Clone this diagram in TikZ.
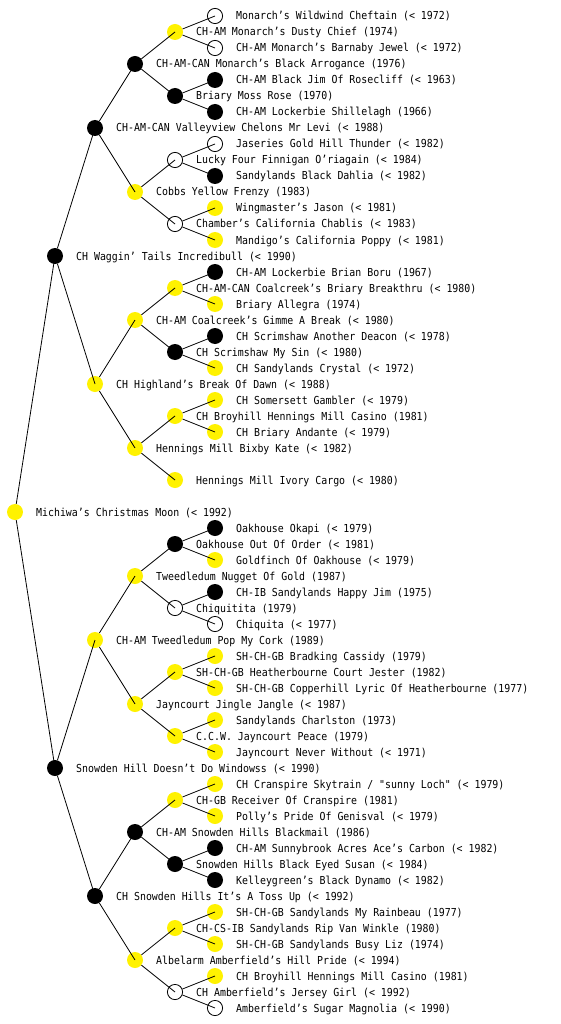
\documentclass[tikz,border=0pt]{standalone}
\usepackage{fontspec}
\setmonofont[FakeStretch=0.9]{DejaVu Sans Mono}
\newcommand\dognode[5]{%
  \node[#2] (n#1) at (#3,#4) {};
  \node[lbl] (t#1) at ([xshift=21pt,yshift=-4pt]n#1.center) {#5};}
\begin{document}
\begin{tikzpicture}[x=1pt,y=-1pt,
  yel/.style={circle,fill=yellow,inner sep=0pt,minimum size=16pt},
  blk/.style={circle,fill=black,inner sep=0pt,minimum size=16pt},
  opn/.style={circle,draw=black,line width=0.8pt,inner sep=0pt,minimum size=15.2pt},
  lbl/.style={anchor=base west,inner sep=0pt,font=\ttfamily\fontsize{11}{13}\selectfont},
  edge/.style={line width=0.8pt,black}]
\useasboundingbox[fill=white] (0,0) rectangle (560,1024);
% depth x: 15 55 95 135 175 215
\dognode{1}{opn}{215}{16}{Monarch’s Wildwind Cheftain (< 1972)}
\dognode{2}{yel}{175}{32}{CH-AM Monarch’s Dusty Chief (1974)}
\dognode{3}{opn}{215}{48}{CH-AM Monarch’s Barnaby Jewel (< 1972)}
\dognode{4}{blk}{135}{64}{CH-AM-CAN Monarch’s Black Arrogance (1976)}
\dognode{5}{blk}{215}{80}{CH-AM Black Jim Of Rosecliff (< 1963)}
\dognode{6}{blk}{175}{96}{Briary Moss Rose (1970)}
\dognode{7}{blk}{215}{112}{CH-AM Lockerbie Shillelagh (1966)}
\dognode{8}{blk}{95}{128}{CH-AM-CAN Valleyview Chelons Mr Levi (< 1988)}
\dognode{9}{opn}{215}{144}{Jaseries Gold Hill Thunder (< 1982)}
\dognode{10}{opn}{175}{160}{Lucky Four Finnigan O’riagain (< 1984)}
\dognode{11}{blk}{215}{176}{Sandylands Black Dahlia (< 1982)}
\dognode{12}{yel}{135}{192}{Cobbs Yellow Frenzy (1983)}
\dognode{13}{yel}{215}{208}{Wingmaster’s Jason (< 1981)}
\dognode{14}{opn}{175}{224}{Chamber’s California Chablis (< 1983)}
\dognode{15}{yel}{215}{240}{Mandigo’s California Poppy (< 1981)}
\dognode{16}{blk}{55}{256}{CH Waggin’ Tails Incredibull (< 1990)}
\dognode{17}{blk}{215}{272}{CH-AM Lockerbie Brian Boru (1967)}
\dognode{18}{yel}{175}{288}{CH-AM-CAN Coalcreek’s Briary Breakthru (< 1980)}
\dognode{19}{yel}{215}{304}{Briary Allegra (1974)}
\dognode{20}{yel}{135}{320}{CH-AM Coalcreek’s Gimme A Break (< 1980)}
\dognode{21}{blk}{215}{336}{CH Scrimshaw Another Deacon (< 1978)}
\dognode{22}{blk}{175}{352}{CH Scrimshaw My Sin (< 1980)}
\dognode{23}{yel}{215}{368}{CH Sandylands Crystal (< 1972)}
\dognode{24}{yel}{95}{384}{CH Highland’s Break Of Dawn (< 1988)}
\dognode{25}{yel}{215}{400}{CH Somersett Gambler (< 1979)}
\dognode{26}{yel}{175}{416}{CH Broyhill Hennings Mill Casino (1981)}
\dognode{27}{yel}{215}{432}{CH Briary Andante (< 1979)}
\dognode{28}{yel}{135}{448}{Hennings Mill Bixby Kate (< 1982)}
\dognode{30}{yel}{175}{480}{Hennings Mill Ivory Cargo (< 1980)}
\dognode{32}{yel}{15}{512}{Michiwa’s Christmas Moon (< 1992)}
\dognode{33}{blk}{215}{528}{Oakhouse Okapi (< 1979)}
\dognode{34}{blk}{175}{544}{Oakhouse Out Of Order (< 1981)}
\dognode{35}{yel}{215}{560}{Goldfinch Of Oakhouse (< 1979)}
\dognode{36}{yel}{135}{576}{Tweedledum Nugget Of Gold (1987)}
\dognode{37}{blk}{215}{592}{CH-IB Sandylands Happy Jim (1975)}
\dognode{38}{opn}{175}{608}{Chiquitita (1979)}
\dognode{39}{opn}{215}{624}{Chiquita (< 1977)}
\dognode{40}{yel}{95}{640}{CH-AM Tweedledum Pop My Cork (1989)}
\dognode{41}{yel}{215}{656}{SH-CH-GB Bradking Cassidy (1979)}
\dognode{42}{yel}{175}{672}{SH-CH-GB Heatherbourne Court Jester (1982)}
\dognode{43}{yel}{215}{688}{SH-CH-GB Copperhill Lyric Of Heatherbourne (1977)}
\dognode{44}{yel}{135}{704}{Jayncourt Jingle Jangle (< 1987)}
\dognode{45}{yel}{215}{720}{Sandylands Charlston (1973)}
\dognode{46}{yel}{175}{736}{C.C.W. Jayncourt Peace (1979)}
\dognode{47}{yel}{215}{752}{Jayncourt Never Without (< 1971)}
\dognode{48}{blk}{55}{768}{Snowden Hill Doesn’t Do Windowss (< 1990)}
\dognode{49}{yel}{215}{784}{CH Cranspire Skytrain / "sunny Loch" (< 1979)}
\dognode{50}{yel}{175}{800}{CH-GB Receiver Of Cranspire (1981)}
\dognode{51}{yel}{215}{816}{Polly’s Pride Of Genisval (< 1979)}
\dognode{52}{blk}{135}{832}{CH-AM Snowden Hills Blackmail (1986)}
\dognode{53}{blk}{215}{848}{CH-AM Sunnybrook Acres Ace’s Carbon (< 1982)}
\dognode{54}{blk}{175}{864}{Snowden Hills Black Eyed Susan (< 1984)}
\dognode{55}{blk}{215}{880}{Kelleygreen’s Black Dynamo (< 1982)}
\dognode{56}{blk}{95}{896}{CH Snowden Hills It’s A Toss Up (< 1992)}
\dognode{57}{yel}{215}{912}{SH-CH-GB Sandylands My Rainbeau (1977)}
\dognode{58}{yel}{175}{928}{CH-CS-IB Sandylands Rip Van Winkle (1980)}
\dognode{59}{yel}{215}{944}{SH-CH-GB Sandylands Busy Liz (1974)}
\dognode{60}{yel}{135}{960}{Albelarm Amberfield’s Hill Pride (< 1994)}
\dognode{61}{yel}{215}{976}{CH Broyhill Hennings Mill Casino (1981)}
\dognode{62}{opn}{175}{992}{CH Amberfield’s Jersey Girl (< 1992)}
\dognode{63}{opn}{215}{1008}{Amberfield’s Sugar Magnolia (< 1990)}
\foreach \p/\c in {32/16,32/48,16/8,16/24,48/40,48/56,
  8/4,8/12,24/20,24/28,40/36,40/44,56/52,56/60,
  4/2,4/6,12/10,12/14,20/18,20/22,28/26,28/30,36/34,36/38,44/42,44/46,52/50,52/54,60/58,60/62,
  2/1,2/3,6/5,6/7,10/9,10/11,14/13,14/15,18/17,18/19,22/21,22/23,26/25,26/27,
  34/33,34/35,38/37,38/39,42/41,42/43,46/45,46/47,50/49,50/51,54/53,54/55,58/57,58/59,62/61,62/63}
  \draw[edge] (n\p) -- (n\c.center);
\end{tikzpicture}
\end{document}
